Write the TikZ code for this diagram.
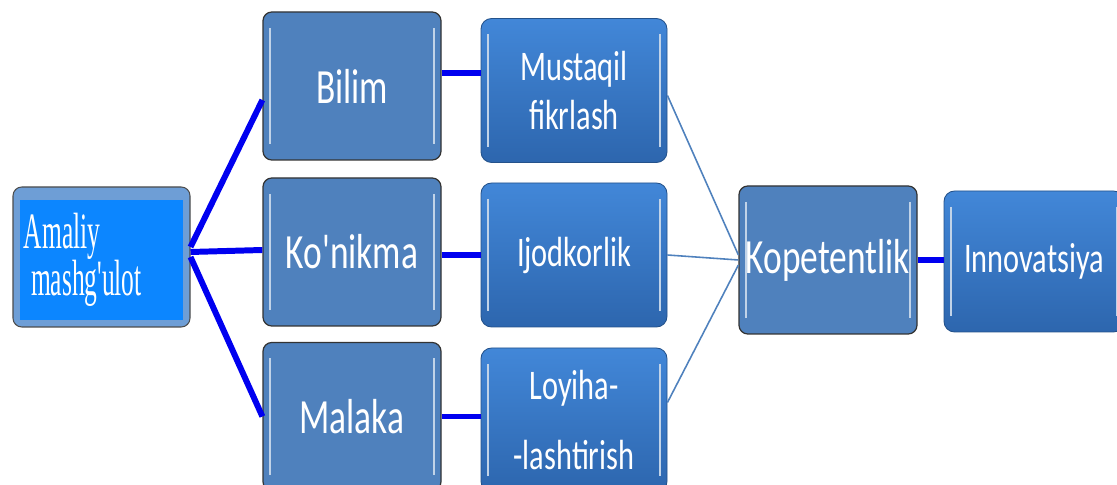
\documentclass[tikz,border=0pt]{standalone}
\usepackage{fontspec}
\usetikzlibrary{calc}
\newfontfamily\boxfont[FakeStretch=0.72]{Carlito}
\newfontfamily\amfont[FakeStretch=0.5]{Liberation Serif}
\definecolor{lightblue}{HTML}{4F81BD}
\definecolor{darktop}{HTML}{4287D8}
\definecolor{darkbot}{HTML}{2D66AE}
\definecolor{brightblue}{HTML}{0C86FF}
\definecolor{framecol}{HTML}{6E9ED6}
\definecolor{linkblue}{HTML}{0000F0}

\begin{document}
\begin{tikzpicture}[
    every node/.style={text=white, inner sep=0pt},
    shine/.style={path picture={
        \draw[white!65!lightblue, line width=0.9pt]
            ([xshift=4pt,yshift=-9pt]path picture bounding box.north west) --
            ([xshift=4pt,yshift=9pt]path picture bounding box.south west);
        \draw[white!65!lightblue, line width=0.9pt]
            ([xshift=-4pt,yshift=-9pt]path picture bounding box.north east) --
            ([xshift=-4pt,yshift=9pt]path picture bounding box.south east);}},
    lbox/.style={draw=black!80, line width=0.7pt, fill=lightblue, rounded corners=5pt,
        minimum width=3.56cm, minimum height=2.96cm, shine,
        font=\boxfont\fontsize{28}{33}\selectfont},
    dbox/.style={draw=darkbot!80!black, line width=0.5pt, top color=darktop, bottom color=darkbot,
        rounded corners=6pt, minimum width=3.72cm, minimum height=2.88cm, shine, align=center,
        font=\boxfont\fontsize{24}{28}\selectfont},
    bluelink/.style={linkblue, line width=3.4pt},
    thinlink/.style={lightblue, line width=0.9pt},
]
\useasboundingbox (0,0) rectangle (22.34,9.70);

% left: the practical lesson
\node[draw=black!70, line width=0.6pt, fill=framecol, rounded corners=5pt,
    minimum width=3.54cm, minimum height=2.8cm] (amf) at (2.03,4.56) {};
\node[fill=brightblue, minimum width=3.26cm, minimum height=2.4cm,
    text width=3.1cm, align=left, font=\amfont\fontsize{29}{27}\selectfont]
    (am) at (2.03,4.50) {Amaliy\\\hspace*{4pt}mashg'ulot};

% middle columns
\node[lbox] (bil) at (7.04,7.98) {Bilim};
\node[lbox] (kon) at (7.04,4.66) {Ko'nikma};
\node[lbox] (mal) at (7.04,1.37) {Malaka};
\node[dbox] (mus) at (11.48,7.89) {Mustaqil\\fikrlash};
\node[dbox] (ijo) at (11.48,4.60) {Ijodkorlik};
\node[dbox] (loy) at (11.48,1.30) {Loyiha-\\[12pt]-lashtirish};

% right: result
\node[lbox] (kop) at (16.56,4.50) {Kopetentlik};
\node[dbox, minimum width=3.6cm, minimum height=2.82cm] (inn) at (20.68,4.47) {Innovatsiya};

% thick links
\draw[bluelink] ([yshift=0.2cm]amf.east) -- ([yshift=-0.28cm]bil.west);
\draw[bluelink] ([yshift=0.1cm]amf.east) -- ([yshift=0.04cm]kon.west);
\draw[bluelink] (amf.east) -- (mal.west);
\draw[bluelink] ([yshift=0.26cm]bil.east) -- ($(bil.east -| mus.west)+(0,0.26)$);
\draw[bluelink] ([yshift=-0.06cm]kon.east) -- ($(kon.east -| ijo.west)+(0,-0.06)$);
\draw[bluelink] (mal.east) -- (mal.east -| loy.west);
\draw[bluelink] (kop.east) -- (kop.east -| inn.west);

% thin links into Kopetentlik
\draw[thinlink] ([yshift=-0.1cm]mus.east) -- ([yshift=0.1cm]kop.west);
\draw[thinlink] (ijo.east) -- (kop.west);
\draw[thinlink] ([yshift=0.35cm]loy.east) -- ([yshift=-0.1cm]kop.west);

\end{tikzpicture}
\end{document}
